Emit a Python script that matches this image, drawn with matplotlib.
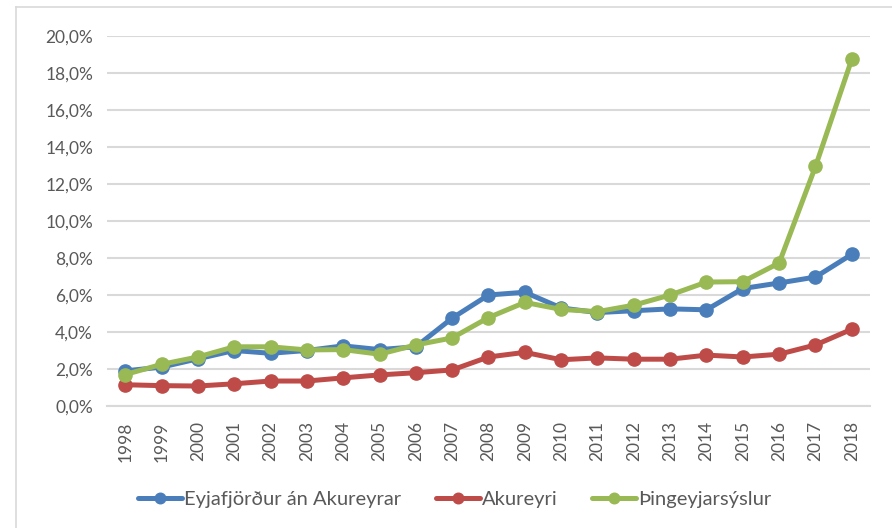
import matplotlib
matplotlib.use('agg')
import matplotlib.pyplot as plt
from matplotlib.lines import Line2D
from matplotlib.ticker import FuncFormatter

years = [str(y) for y in range(1998, 2019)]
eyjafjordur = [1.9, 2.1, 2.55, 3.0, 2.85, 3.0, 3.25, 3.05, 3.2, 4.75, 6.0,
               6.15, 5.3, 5.05, 5.15, 5.25, 5.2, 6.35, 6.65, 6.97, 8.2]
akureyri = [1.15, 1.1, 1.08, 1.2, 1.35, 1.35, 1.52, 1.68, 1.8, 1.95, 2.65,
            2.9, 2.5, 2.6, 2.53, 2.53, 2.75, 2.65, 2.8, 3.3, 4.15]
thingeyjar = [1.7, 2.25, 2.65, 3.2, 3.2, 3.03, 3.05, 2.8, 3.3, 3.68, 4.78,
              5.6, 5.22, 5.1, 5.45, 6.0, 6.7, 6.72, 7.73, 12.95, 18.75]

plt.rcParams['font.family'] = ['Lato', 'DejaVu Sans']

W, H = 892, 528
fig = plt.figure(figsize=(W / 100, H / 100), dpi=100)
ax = fig.add_axes([107 / W, 1 - 406 / H, (870 - 107) / W, (406 - 36) / H])

x = range(len(years))
series = [
    (eyjafjordur, '#4a7ebb', 'Eyjafjörður án Akureyrar'),
    (akureyri, '#be4b48', 'Akureyri'),
    (thingeyjar, '#98b954', 'Þingeyjarsýslur'),
]
for vals, col, lab in series:
    ax.plot(x, vals, color=col, lw=3.6, marker='o', ms=9.5, label=lab,
            solid_capstyle='round')

ax.set_xlim(-0.5, len(years) - 0.5)
ax.set_ylim(0, 20)
ax.set_yticks(range(0, 21, 2))
ax.yaxis.set_major_formatter(FuncFormatter(lambda v, p: f'{v:.1f}%'.replace('.', ',')))
ax.set_xticks(list(x))
ax.set_xticklabels(years, rotation=90)
ax.grid(axis='y', color='#d9d9d9', lw=1.5)
ax.set_axisbelow(True)
for s in ['top', 'right', 'left']:
    ax.spines[s].set_visible(False)
ax.spines['bottom'].set_color('#d9d9d9')
ax.spines['bottom'].set_linewidth(1.5)
ax.tick_params(axis='y', length=0, labelsize=12.5, colors='#595959', pad=10)
ax.tick_params(axis='x', length=0, labelsize=12.5, colors='#595959', pad=11)

fig.legend(loc='center', bbox_to_anchor=(0.51, 1 - 499 / H), ncol=3, frameon=False,
           fontsize=14.5, labelcolor='#595959', handlelength=2.2, columnspacing=1.7,
           handletextpad=0.1, markerscale=0.8)

# outer chart border
fig.add_artist(Line2D([16 / W, 16 / W], [0, 1 - 7 / H], color='#d9d9d9', lw=1.2))
fig.add_artist(Line2D([16 / W, 1], [1 - 7 / H, 1 - 7 / H], color='#d9d9d9', lw=1.2))

fig.savefig('out.png', dpi=100)
